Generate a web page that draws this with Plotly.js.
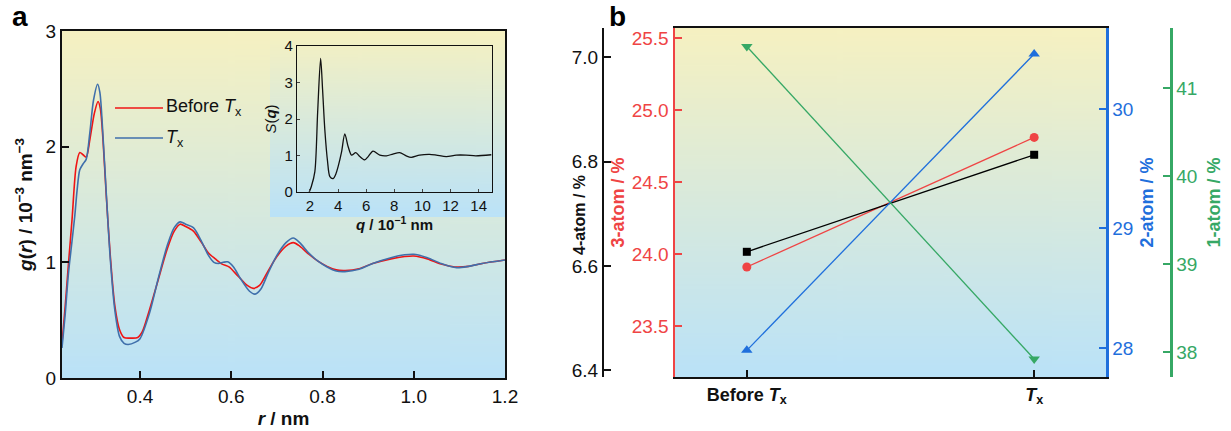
<!DOCTYPE html>
<html>
<head>
<meta charset="utf-8">
<script src="https://cdn.plot.ly/plotly-3.0.1.min.js"></script>
<style>html,body{margin:0;padding:0;background:#fff;}#chart{width:1231px;height:431px;}</style>
</head>
<body>
<div id="chart"></div>
<script>
// ---------- Data ----------
// Panel a: pair distribution function g(r)
const rBefore = [0.229,0.236,0.243,0.251,0.260,0.268,0.275,0.282,0.290,0.300,0.308,0.313,0.319,0.326,0.335,0.345,0.355,0.365,0.380,0.395,0.405,0.420,0.440,0.460,0.475,0.488,0.500,0.517,0.535,0.550,0.565,0.580,0.595,0.615,0.635,0.648,0.662,0.680,0.700,0.720,0.736,0.750,0.770,0.790,0.810,0.830,0.850,0.880,0.910,0.950,0.980,1.000,1.030,1.060,1.090,1.120,1.150,1.200];
const gBefore = [0.30,0.62,0.98,1.37,1.83,1.95,1.93,1.91,2.06,2.29,2.39,2.33,2.05,1.58,1.05,0.62,0.42,0.35,0.345,0.35,0.40,0.58,0.85,1.12,1.27,1.33,1.31,1.27,1.17,1.08,1.03,0.985,0.96,0.88,0.80,0.775,0.80,0.92,1.05,1.14,1.17,1.14,1.07,1.01,0.965,0.935,0.93,0.945,0.99,1.03,1.05,1.055,1.03,0.985,0.96,0.965,0.99,1.02];
const rTx = [0.229,0.236,0.243,0.250,0.257,0.262,0.268,0.275,0.282,0.290,0.298,0.307,0.312,0.318,0.326,0.335,0.345,0.355,0.365,0.374,0.390,0.400,0.420,0.440,0.460,0.475,0.488,0.500,0.517,0.535,0.550,0.562,0.572,0.582,0.592,0.605,0.620,0.640,0.652,0.665,0.680,0.700,0.720,0.736,0.750,0.770,0.790,0.810,0.830,0.849,0.880,0.910,0.950,0.980,1.000,1.030,1.060,1.094,1.120,1.150,1.200];
const gTx = [0.26,0.55,0.90,1.15,1.40,1.62,1.80,1.85,1.89,2.12,2.40,2.54,2.47,2.15,1.60,1.02,0.58,0.36,0.30,0.29,0.31,0.34,0.55,0.86,1.15,1.30,1.35,1.33,1.30,1.18,1.06,1.00,0.99,1.00,1.005,0.96,0.86,0.75,0.725,0.77,0.90,1.06,1.17,1.21,1.17,1.08,1.01,0.96,0.925,0.92,0.94,0.99,1.04,1.065,1.07,1.04,0.99,0.954,0.965,0.99,1.02];
// Inset: structure factor S(q)
const qVals = [1.95,2.10,2.35,2.55,2.76,2.90,3.06,3.25,3.42,3.65,3.85,4.00,4.25,4.48,4.72,4.96,5.26,5.55,5.90,6.14,6.49,6.97,7.44,7.90,8.38,8.85,9.20,9.80,10.50,10.99,11.70,12.40,13.10,13.80,14.90];
const sVals = [0.00,0.15,0.56,2.20,3.66,2.80,1.70,0.85,0.42,0.37,0.50,0.69,1.10,1.59,1.24,1.01,1.08,0.97,0.88,0.97,1.12,1.01,0.99,1.04,1.08,0.99,0.95,1.01,1.03,1.01,0.97,1.01,1.01,0.99,1.02];
// Panel b: cluster fractions
const categories = ['Before <i>T</i><sub>x</sub>', '<i>T</i><sub>x</sub>'];
const atom4 = [6.627, 6.813];
const atom3 = [23.91, 24.81];
const atom2 = [27.98, 30.46];
const atom1 = [41.47, 37.92];

// ---------- Layout helpers ----------
const W = 1231, H = 431;
const px = v => v / W;
const py = v => 1 - v / H;
const FONT = 'Liberation Sans, Arial, sans-serif';
const RED = '#ef4444', BLUE = '#1f6fdc', GREEN = '#36a865';

function gradient(top, bottom) {
  const c = document.createElement('canvas');
  c.width = 4; c.height = 256;
  const g = c.getContext('2d');
  const lg = g.createLinearGradient(0, 0, 0, 256);
  lg.addColorStop(0, top); lg.addColorStop(1, bottom);
  g.fillStyle = lg; g.fillRect(0, 0, 4, 256);
  return c.toDataURL();
}
const bgImg = gradient('#f6f1c1', '#bae2f8');
function bgImage(x0, x1, y0, y1) {
  return {source: bgImg, xref: 'paper', yref: 'paper', x: px(x0), y: py(y0),
    sizex: px(x1) - px(x0), sizey: (y1 - y0) / H, xanchor: 'left', yanchor: 'top',
    sizing: 'stretch', layer: 'below'};
}

const traces = [
  {x: rBefore, y: gBefore, xaxis: 'x', yaxis: 'y', type: 'scatter', mode: 'lines',
   line: {color: '#f01414', width: 1.6, shape: 'spline', smoothing: 0.8}, showlegend: false},
  {x: rTx, y: gTx, xaxis: 'x', yaxis: 'y', type: 'scatter', mode: 'lines',
   line: {color: '#3f6fab', width: 1.6, shape: 'spline', smoothing: 0.8}, showlegend: false},
  {x: qVals, y: sVals, xaxis: 'x2', yaxis: 'y2', type: 'scatter', mode: 'lines',
   line: {color: '#111', width: 1.3, shape: 'spline', smoothing: 0.8}, showlegend: false},
  {x: categories, y: atom4, xaxis: 'x3', yaxis: 'y4', type: 'scatter', mode: 'lines+markers',
   line: {color: '#000', width: 1.3}, marker: {symbol: 'square', size: 8, color: '#000'}, showlegend: false},
  {x: categories, y: atom3, xaxis: 'x3', yaxis: 'y3', type: 'scatter', mode: 'lines+markers',
   line: {color: RED, width: 1.3}, marker: {symbol: 'circle', size: 9, color: RED}, showlegend: false},
  {x: categories, y: atom2, xaxis: 'x3', yaxis: 'y5', type: 'scatter', mode: 'lines+markers',
   line: {color: BLUE, width: 1.3}, marker: {symbol: 'triangle-up', size: 10, color: BLUE}, showlegend: false},
  {x: categories, y: atom1, xaxis: 'x3', yaxis: 'y6', type: 'scatter', mode: 'lines+markers',
   line: {color: GREEN, width: 1.3}, marker: {symbol: 'triangle-down', size: 10, color: GREEN}, showlegend: false}
];

const tickF = {family: FONT, size: 19, color: '#111'};
const layout = {
  width: W, height: H,
  margin: {l: 0, r: 0, t: 0, b: 0},
  paper_bgcolor: '#fff', plot_bgcolor: 'rgba(0,0,0,0)',
  font: {family: FONT, color: '#111'},
  showlegend: false,
  // ---- panel a ----
  xaxis: {domain: [px(62), px(505)], range: [0.229, 1.2], tick0: 0, dtick: 0.2, tickformat: '.1f',
    ticks: 'inside', ticklen: 7, tickwidth: 2, tickcolor: '#111', showline: true, linewidth: 2, linecolor: '#111',
    mirror: true, showgrid: false, zeroline: false, tickfont: tickF, anchor: 'y',
    title: {text: '<i>r</i> / nm', font: {family: FONT, size: 19, weight: 'bold'}, standoff: 6}},
  yaxis: {domain: [py(378), py(31)], range: [0, 3], dtick: 1,
    ticks: 'inside', ticklen: 7, tickwidth: 2, tickcolor: '#111', showline: true, linewidth: 2, linecolor: '#111',
    mirror: true, showgrid: false, zeroline: false, tickfont: tickF, anchor: 'x',
    title: {text: '<i>g</i>(<i>r</i>) / 10<sup>−3</sup> nm<sup>−3</sup>', font: {family: FONT, size: 19, weight: 'bold'}, standoff: 8}},
  // ---- inset ----
  xaxis2: {domain: [px(297), px(492)], range: [1.08, 14.95], tick0: 0, dtick: 2,
    ticks: 'inside', ticklen: 3, tickwidth: 1, showline: true, linewidth: 1.2, linecolor: '#111', mirror: true,
    showgrid: false, zeroline: false, tickfont: {family: FONT, size: 15, color: '#111'}, anchor: 'y2',
    title: {text: '<i>q</i> / 10<sup>−1</sup> nm', font: {family: FONT, size: 15, weight: 'bold'}, standoff: 2}},
  yaxis2: {domain: [py(192), py(46)], range: [0, 4], dtick: 1,
    ticks: 'inside', ticklen: 3, tickwidth: 1, showline: true, linewidth: 1.2, linecolor: '#111', mirror: true,
    showgrid: false, zeroline: false, tickfont: {family: FONT, size: 15, color: '#111'}, anchor: 'x2',
    title: {text: '<i>S</i>(<b><i>q</i></b>)', font: {family: FONT, size: 15}, standoff: 4}},
  // ---- panel b ----
  xaxis3: {domain: [px(675), px(1106)], range: [-0.25, 1.25], type: 'category',
    ticks: 'inside', ticklen: 7, tickwidth: 2, tickcolor: '#111', showline: true, linewidth: 2, linecolor: '#111',
    mirror: true, showgrid: false, zeroline: false, anchor: 'y3',
    tickfont: {family: FONT, size: 18, color: '#111', weight: 'bold'}},
  yaxis3: {domain: [py(377), py(28)], range: [23.146, 25.57], dtick: 0.5, tick0: 0, tickformat: '.1f',
    ticks: 'inside', ticklen: 7, tickwidth: 2, tickcolor: RED, showline: true, linewidth: 2.5, linecolor: RED,
    showgrid: false, zeroline: false, anchor: 'x3', side: 'left',
    tickfont: {family: FONT, size: 19, color: RED},
    title: {text: '3-atom / %', font: {family: FONT, size: 18, color: RED, weight: 'bold'}, standoff: 3}},
  yaxis4: {overlaying: 'y3', anchor: 'free', position: px(603), side: 'left', range: [6.387, 7.056], dtick: 0.2, tick0: 0, tickformat: '.1f',
    ticks: 'inside', ticklen: 7, tickwidth: 2, tickcolor: '#111', showline: true, linewidth: 2, linecolor: '#111',
    showgrid: false, zeroline: false, tickfont: {family: FONT, size: 19, color: '#111'}},
  yaxis5: {overlaying: 'y3', anchor: 'x3', side: 'right', range: [27.757, 30.678], dtick: 1,
    ticks: 'inside', ticklen: 7, tickwidth: 2, tickcolor: BLUE, showline: true, linewidth: 2.5, linecolor: BLUE,
    showgrid: false, zeroline: false, tickfont: {family: FONT, size: 19, color: BLUE},
    title: {text: '2-atom / %', font: {family: FONT, size: 18, color: BLUE, weight: 'bold'}, standoff: 8}},
  yaxis6: {overlaying: 'y3', anchor: 'free', position: px(1171), side: 'right', range: [37.716, 41.68], dtick: 1,
    ticks: 'inside', ticklen: 7, tickwidth: 2, tickcolor: GREEN, showline: true, linewidth: 2.5, linecolor: GREEN,
    showgrid: false, zeroline: false, tickfont: {family: FONT, size: 19, color: GREEN},
    title: {text: '1-atom / %', font: {family: FONT, size: 18, color: GREEN, weight: 'bold'}, standoff: 10}},
  images: [bgImage(62, 505, 31, 378), bgImage(270, 505, 31, 217), bgImage(675, 1106, 28, 377)],
  shapes: [
    {type: 'line', xref: 'paper', yref: 'paper', x0: px(115), x1: px(163), y0: py(108), y1: py(108), line: {color: '#f01414', width: 1.6}},
    {type: 'line', xref: 'paper', yref: 'paper', x0: px(115), x1: px(163), y0: py(138), y1: py(138), line: {color: '#3f6fab', width: 1.6}}
  ],
  annotations: [
    {text: 'Before <i>T</i><sub>x</sub>', xref: 'paper', yref: 'paper', x: px(164), y: py(108), xanchor: 'left', yanchor: 'middle',
     showarrow: false, font: {family: FONT, size: 18, color: '#111'}},
    {text: '<i>T</i><sub>x</sub>', xref: 'paper', yref: 'paper', x: px(164), y: py(138), xanchor: 'left', yanchor: 'middle',
     showarrow: false, font: {family: FONT, size: 18, color: '#111'}},
    {text: '4-atom / %', xref: 'paper', yref: 'paper', x: px(579), y: py(215), xanchor: 'center', yanchor: 'middle',
     textangle: -90, showarrow: false, font: {family: FONT, size: 16, color: '#111', weight: 'bold'}},
    {text: 'a', xref: 'paper', yref: 'paper', x: px(20), y: py(17), xanchor: 'center', yanchor: 'middle',
     showarrow: false, font: {family: FONT, size: 28, color: '#000', weight: 'bold'}},
    {text: 'b', xref: 'paper', yref: 'paper', x: px(617), y: py(17), xanchor: 'center', yanchor: 'middle',
     showarrow: false, font: {family: FONT, size: 28, color: '#000', weight: 'bold'}}
  ]
};

Plotly.newPlot('chart', traces, layout, {displayModeBar: false, staticPlot: true});
</script>
</body>
</html>
